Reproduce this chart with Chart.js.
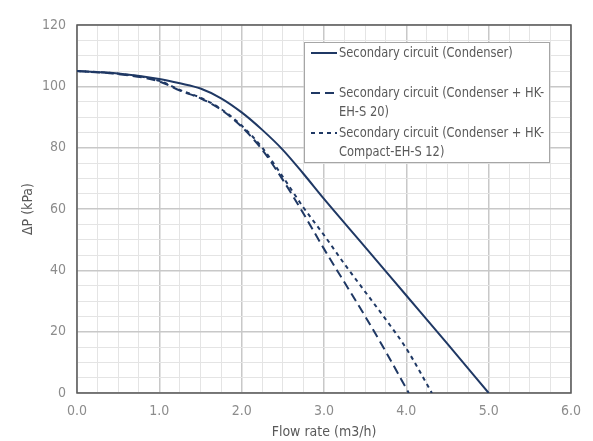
<!DOCTYPE html>
<html>
<head>
<script src="https://cdn.jsdelivr.net/npm/chart.js@4/dist/chart.umd.min.js"></script>
<style>
    body { margin: 0; background: #fff; }
    #wrap { width: 593px; height: 441px; position: relative; }
</style>
</head>
<body>
<div id="wrap"><canvas id="chart" width="593" height="441"></canvas></div>
<script>
// flow rate (m3/h) vs pressure drop (kPa)
const flowSolid = [0, 0.5, 1.0, 1.25, 1.5, 1.75, 2.0, 2.25, 2.5, 2.75, 3.0, 3.5, 4.0, 4.5, 5.0];
const dpSolid   = [105, 104.2, 102.4, 101, 99.3, 96.1, 91.5, 85.8, 79.3, 71.5, 63.3, 47.6, 31.8, 16, 0];

const flowEH20 = [0, 0.5, 1.0, 1.25, 1.5, 1.75, 2.0, 2.25, 2.5, 2.75, 3.0, 3.25, 3.5, 3.75, 4.03];
const dpEH20   = [105, 104, 101.6, 98.6, 96.1, 92.4, 86.8, 79.3, 69.5, 58.5, 47, 36, 25, 13.5, 0];

const flowCompact12 = [0, 0.5, 1.0, 1.25, 1.5, 1.75, 2.0, 2.25, 2.5, 2.75, 3.0, 3.25, 3.5, 3.75, 4.0, 4.31];
const dpCompact12   = [105, 104.1, 101.8, 98.8, 96.3, 92.6, 87.2, 80, 70.5, 60.5, 51.5, 42, 33, 24, 14.5, 0];

const seriesNames = [
    ['Secondary circuit (Condenser)', ''],
    ['Secondary circuit (Condenser + HK-', 'EH-S 20)'],
    ['Secondary circuit (Condenser + HK-', 'Compact-EH-S 12)']
];

const xTitle = 'Flow rate (m3/h)';
const yTitle = 'ΔP (kPa)';

const navy = '#1f3864';
const fontFam = '"Liberation Sans Narrow", "DejaVu Sans Condensed", "Liberation Sans", sans-serif';

function pts(xs, ys) {
    return xs.map((x, i) => ({ x: x, y: ys[i] }));
}

// frame round the plot area + the legend box
const framePlugin = {
    id: 'frame',
    beforeDatasetsDraw(chart) {
        const a = chart.chartArea, c = chart.ctx;
        c.save();
        c.strokeStyle = '#595959';
        c.lineWidth = 1.5;
        c.strokeRect(a.left, a.top, a.right - a.left, a.bottom - a.top);
        c.restore();
    },
    afterDraw(chart) {
        const c = chart.ctx;
        const bx = 304, by = 42, bw = 245, bh = 120;
        c.save();
        c.fillStyle = '#fff';
        c.fillRect(bx, by, bw, bh);
        c.strokeStyle = '#a6a6a6';
        c.lineWidth = 1;
        c.strokeRect(bx + 0.5, by + 0.5, bw, bh);
        c.font = '14px ' + fontFam;
        c.textBaseline = 'middle';
        chart.data.datasets.forEach((ds, i) => {
            const y0 = by + 11 + i * 40;
            c.beginPath();
            c.strokeStyle = ds.borderColor;
            c.lineWidth = 2;
            c.setLineDash(ds.borderDash || []);
            c.moveTo(bx + 7, y0);
            c.lineTo(bx + 33, y0);
            c.stroke();
            c.setLineDash([]);
            c.fillStyle = '#595959';
            seriesNames[i].forEach((line, j) => {
                // squeeze a little, the original uses a narrow face
                const w = c.measureText(line).width * 0.91;
                c.fillText(line, bx + 35, y0 + j * 19.5, w);
            });
        });
        c.restore();
    }
};

const ctx = document.getElementById('chart').getContext('2d');
new Chart(ctx, {
    type: 'scatter',
    data: {
        datasets: [
            {
                label: seriesNames[0].join(' '),
                data: pts(flowSolid, dpSolid),
                borderColor: navy,
                borderWidth: 2
            },
            {
                label: seriesNames[1].join(''),
                data: pts(flowEH20, dpEH20),
                borderColor: navy,
                borderWidth: 2,
                borderDash: [9, 5]
            },
            {
                label: seriesNames[2].join(''),
                data: pts(flowCompact12, dpCompact12),
                borderColor: navy,
                borderWidth: 2,
                borderDash: [4, 4]
            }
        ].map(d => Object.assign(d, {
            showLine: true,
            pointRadius: 0,
            fill: false,
            cubicInterpolationMode: 'monotone'
        }))
    },
    options: {
        responsive: false,
        animation: false,
        devicePixelRatio: 1,
        layout: { padding: { top: 25, right: 22, left: 0, bottom: 0 } },
        plugins: {
            legend: { display: false },
            tooltip: { enabled: false }
        },
        scales: {
            x: {
                type: 'linear',
                min: 0,
                max: 6,
                afterFit(s) { s.height = 48; },
                grid: {
                    color: c => (Math.abs(c.tick.value % 1) < 1e-6 ? '#c8c8c8' : '#e4e4e4'),
                    lineWidth: c => (Math.abs(c.tick.value % 1) < 1e-6 ? 1.5 : 1),
                    drawTicks: false
                },
                border: { display: false },
                ticks: {
                    stepSize: 0.25,
                    autoSkip: false,
                    maxRotation: 0,
                    padding: 10,
                    color: '#8c8c8c',
                    font: { family: fontFam, size: 14 },
                    callback: v => (Math.abs(v % 1) < 1e-6 ? v.toFixed(1) : '')
                },
                title: {
                    display: true,
                    text: xTitle,
                    color: '#595959',
                    font: { family: fontFam, size: 14 },
                    padding: { top: 0, bottom: 0 }
                }
            },
            y: {
                type: 'linear',
                min: 0,
                max: 120,
                afterFit(s) { s.width = 77; },
                grid: {
                    color: c => (c.tick.value % 20 === 0 ? '#c8c8c8' : '#e4e4e4'),
                    lineWidth: c => (c.tick.value % 20 === 0 ? 1.5 : 1),
                    drawTicks: false
                },
                border: { display: false },
                ticks: {
                    stepSize: 5,
                    autoSkip: false,
                    padding: 11,
                    color: '#8c8c8c',
                    font: { family: fontFam, size: 14 },
                    callback: v => (v % 20 === 0 ? String(v) : '')
                },
                title: {
                    display: true,
                    text: yTitle,
                    color: '#595959',
                    font: { family: fontFam, size: 14 },
                    padding: { top: 20, bottom: 0 }
                }
            }
        }
    },
    plugins: [framePlugin]
});
</script>
</body>
</html>
